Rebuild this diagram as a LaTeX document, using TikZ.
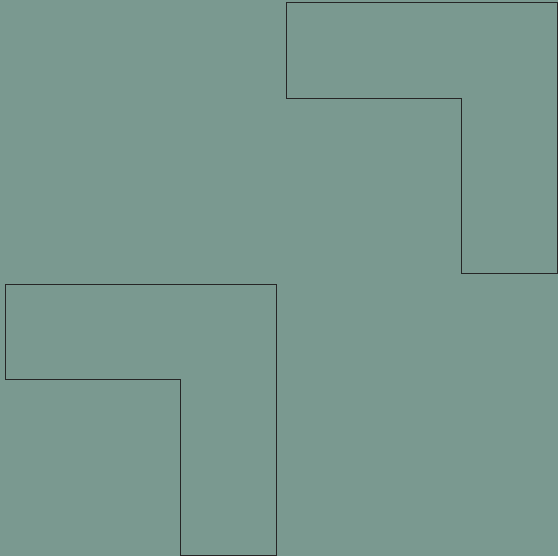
\documentclass[tikz,border=0pt]{standalone}
\definecolor{bg}{HTML}{7A9990}
\tikzset{lshape/.style={draw=black!85, line width=0.9pt}}
\begin{document}
\begin{tikzpicture}[x=1pt,y=-1pt]
\fill[bg] (0,0) rectangle (558,556);
\useasboundingbox (0,0) rectangle (558,556);
\draw[lshape] (286.5,2.5) -- (557,2.5) -- (557,273.5) -- (461.5,273.5) -- (461.5,98.5) -- (286.5,98.5) -- cycle;
\draw[lshape] (5.5,284.5) -- (276.5,284.5) -- (276.5,555) -- (180.5,555) -- (180.5,379.5) -- (5.5,379.5) -- cycle;
\end{tikzpicture}
\end{document}
